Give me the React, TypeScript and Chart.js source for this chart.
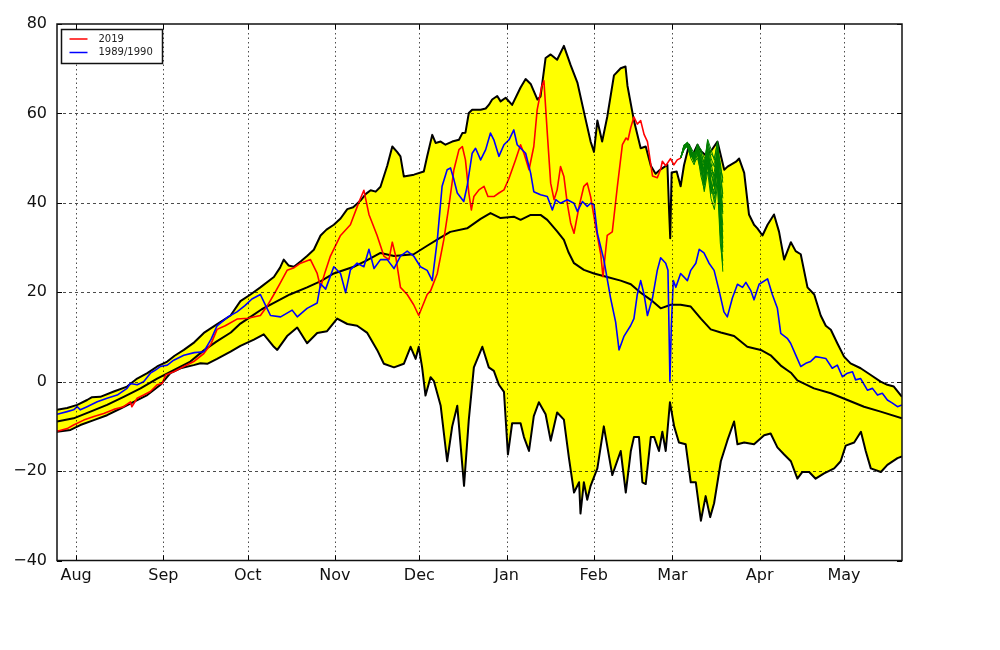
import React, { useEffect, useRef } from 'react';
import { Chart, registerables } from 'chart.js';

Chart.register(...registerables);

// ---- axes ----
const xMin = -6.8;
const xMax = 293.6;
const yMin = -40;
const yMax = 80;
const yTicks = [-40, -20, 0, 20, 40, 60, 80];
const monthDays = [0, 31, 61, 92, 122, 153, 184, 212, 243, 273];
const monthLabels = ['Aug', 'Sep', 'Oct', 'Nov', 'Dec', 'Jan', 'Feb', 'Mar', 'Apr', 'May'];

// ---- upper envelope (max) ----
const maxDays = [-6.8, -3.2, 0.4, 3.9, 5.5, 8.6, 13.4, 18.1, 21.7, 25.3, 28.8, 32.4, 35, 38.3, 42, 45.4, 50, 54.9, 58.4, 62, 65.5, 70.3, 72.5, 73.8, 75.5, 77.4, 80, 82.1, 84.5, 86.9, 89, 91.6, 94, 96.4, 98.5, 101.1, 103, 104.7, 106.5, 108.2, 110.6, 112.4, 114.1, 115.3, 116.5, 120.1, 123.6, 124.8, 126.6, 127.8, 129.6, 131.3, 133.7, 136.1, 137.3, 138.4, 139.6, 140.8, 143.8, 145.6, 146.7, 147.9, 149.7, 150.9, 152.7, 155, 158, 159.8, 161.6, 164, 165.1, 166.9, 168.7, 171, 173.4, 175.8, 178.2, 180.5, 182.9, 184.1, 185.3, 187, 188.8, 191.2, 193.6, 195.3, 196, 198.3, 200.7, 202.5, 204.3, 206, 207.8, 210.2, 210.8, 211.2, 211.7, 213.5, 214.9, 216.1, 217.9, 219.1, 220.9, 222.1, 223.9, 225.7, 228, 230.4, 231.6, 234.6, 235.7, 237.5, 239.2, 241, 242.2, 244, 245.8, 248.1, 249.9, 251.7, 254.1, 255.8, 257.6, 260, 262.4, 264.7, 266.5, 268.3, 270.6, 273, 275.3, 278.9, 282.5, 286, 288.4, 290.7, 293.6];
const maxVals = [-6.3, -5.9, -5.2, -4.1, -3.5, -3.4, -2.2, -1.1, 0.7, 1.9, 3.4, 4.5, 5.8, 7.1, 8.8, 10.9, 12.8, 14.8, 18.0, 19.5, 21.1, 23.4, 25.5, 27.3, 26.0, 25.7, 27.0, 28.1, 29.5, 32.7, 34.0, 35.1, 36.5, 38.6, 39.0, 40.5, 42.0, 42.8, 42.5, 43.6, 48.3, 52.6, 51.4, 50.4, 45.9, 46.3, 47.0, 50.4, 55.2, 53.4, 53.7, 53.0, 53.7, 54.1, 55.6, 55.7, 60.1, 60.8, 60.8, 61.1, 61.9, 63.1, 63.9, 62.7, 63.5, 61.9, 65.8, 67.7, 66.6, 63.1, 63.8, 72.4, 73.2, 72.0, 75.1, 70.8, 66.9, 60.4, 53.7, 51.4, 58.4, 53.7, 59.2, 68.5, 70.1, 70.5, 66.2, 58.4, 52.2, 52.6, 48.3, 46.5, 47.5, 48.5, 38.2, 32.1, 46.8, 47.0, 43.7, 48.4, 53.0, 50.6, 53.0, 51.6, 50.6, 51.6, 53.7, 47.4, 48.1, 49.2, 49.9, 46.7, 37.4, 35.1, 34.3, 32.7, 35.1, 37.4, 33.5, 27.3, 31.2, 29.2, 28.5, 21.1, 19.5, 14.8, 12.5, 11.6, 8.6, 5.6, 4.1, 3.0, 1.5, 0.0, -0.7, -1.1, -3.4];

// ---- lower envelope (min) ----
const minDays = [-6.8, -2, 1.5, 6.3, 11, 15.8, 20.5, 25.3, 30, 33.5, 37.1, 41.8, 44.2, 46.6, 50.1, 54.9, 58.4, 63.2, 66.7, 70.3, 71.5, 75, 78.6, 82.1, 85.7, 89.2, 92.8, 96.4, 99.9, 103.5, 107, 109.4, 113, 116.5, 118.9, 120.7, 121.8, 123, 124.2, 126, 127.2, 129.6, 131.9, 133.7, 135.5, 137.9, 139.6, 141.4, 144.4, 146.7, 148.5, 150.3, 152.1, 153.5, 155, 158, 159.2, 161, 162.7, 164.5, 166.9, 168.7, 171, 173.4, 175.2, 177, 178.8, 179.3, 180.5, 181.7, 182.9, 185.3, 187.6, 190.6, 193.6, 195.4, 197.2, 198.3, 200.1, 201.3, 202.5, 204.3, 205.5, 207.2, 208.4, 209.6, 211.1, 212.6, 214.3, 216.7, 218.5, 220.3, 222.1, 223.8, 225.4, 226.8, 229.2, 231.5, 233.9, 235.1, 237.5, 241, 244.6, 246.9, 249.3, 251.7, 254.1, 256.4, 258.2, 260.6, 262.9, 265.9, 269.5, 271.8, 273.6, 276.6, 279, 280.7, 282.5, 286.1, 288.4, 292, 293.6];
const minVals = [-11.2, -10.8, -9.7, -8.6, -7.5, -6.0, -4.5, -3.0, -0.7, 1.9, 3.0, 3.7, 4.1, 4.0, 5.1, 6.7, 8.0, 9.4, 10.6, 7.8, 7.1, 10.2, 12.1, 8.6, 10.9, 11.3, 14.1, 12.9, 12.5, 10.9, 7.1, 4.0, 3.2, 4.0, 7.8, 5.1, 7.8, 3.2, -3.1, 1.0, 0.1, -5.4, -17.8, -10.0, -5.4, -23.3, -8.5, 3.2, 7.8, 3.2, 2.4, -0.7, -2.3, -16.3, -9.3, -9.3, -12.4, -15.5, -7.7, -4.6, -7.3, -13.2, -6.9, -8.5, -17.1, -24.8, -22.5, -29.5, -22.5, -26.4, -23.3, -19.4, -10.0, -20.9, -15.5, -24.8, -15.5, -12.4, -12.4, -22.5, -22.9, -12.4, -12.4, -15.5, -11.2, -15.5, -4.6, -10.0, -13.6, -14.0, -22.5, -22.5, -31.1, -25.6, -30.3, -27.2, -17.8, -13.2, -8.9, -14.0, -13.6, -14.0, -12.0, -11.6, -14.7, -16.3, -17.8, -21.7, -20.2, -20.2, -21.7, -20.5, -19.4, -17.8, -14.3, -13.6, -11.2, -15.5, -19.4, -20.2, -18.6, -17.1, -16.7];

// ---- mean ----
const meanDays = [-6.8, -0.9, 5.1, 11, 16.9, 22.9, 28.8, 34.7, 40.6, 45.4, 50, 55, 58.4, 62, 66, 70.3, 76, 82.1, 87, 91.6, 98.7, 103, 108.2, 113, 120, 124.8, 129.5, 133, 139, 143.8, 147.3, 150.9, 155.6, 158, 161.6, 165.1, 167.5, 171, 173.4, 175, 177, 180.5, 184.1, 188.8, 193.6, 197.2, 200.7, 204.3, 207.8, 211.4, 214.9, 218.5, 222.1, 225.6, 229.2, 233.9, 238.6, 243.4, 246.9, 250.5, 254.1, 256.4, 262.3, 268.3, 274.2, 280.1, 286, 293.6];
const meanVals = [-8.9, -8.2, -6.7, -5.2, -3.4, -1.5, 0.7, 2.6, 4.5, 7.0, 9.0, 11.0, 13.0, 14.5, 16.2, 17.6, 19.5, 21.1, 22.5, 24.2, 25.7, 27.0, 28.8, 28.1, 28.5, 30.4, 32.2, 33.5, 34.3, 36.4, 37.7, 36.6, 36.9, 36.2, 37.3, 37.3, 36.2, 33.6, 31.7, 29.0, 26.5, 25.0, 24.2, 23.4, 22.6, 21.8, 19.9, 18.3, 16.4, 17.2, 17.2, 16.8, 14.1, 11.7, 11.0, 10.2, 7.8, 7.1, 5.9, 3.6, 2.0, 0.3, -1.5, -2.6, -4.1, -5.6, -6.7, -8.2];

// ---- 2019 ----
const redDays = [-6.8, -3.2, -0.9, 2.7, 6.3, 9.8, 13.4, 16.9, 19.3, 19.8, 21.7, 24, 26.4, 28.8, 30.6, 31.8, 34.7, 38.3, 41.8, 45.4, 48, 50.1, 53, 57.2, 61, 65.5, 68, 70.3, 72.5, 75, 77.5, 79.8, 83.3, 85.7, 86.9, 88.5, 90.4, 94, 97.5, 100.5, 102.3, 104.1, 107, 109.4, 111.2, 112.4, 113.6, 115.3, 117.7, 120, 121.8, 124.8, 126, 128.4, 130.7, 132.5, 134.3, 136.1, 137.3, 138.4, 139.6, 140.5, 141.4, 143.2, 145, 146.4, 148.5, 150.3, 152.1, 153.9, 156.2, 158, 159.2, 161, 162.7, 163.9, 165.5, 166.3, 167.5, 168.7, 169.9, 171, 172.2, 173.4, 174.6, 175.8, 177, 178.8, 180.5, 181.7, 182.9, 184.7, 186.5, 187.3, 188.8, 190.6, 192.4, 194.2, 195.5, 196.2, 197.2, 198.3, 199.5, 200.7, 201.9, 203.1, 204.9, 206.6, 207.8, 208.4, 209.6, 211.3, 212.5, 213.7, 214.9];
const redVals = [-11.1, -10.5, -9.7, -8.6, -7.8, -7.1, -6.2, -5.6, -4.5, -5.6, -3.7, -3.0, -2.2, -0.7, -0.4, 1.5, 2.2, 3.4, 4.5, 6.3, 8.5, 11.7, 12.5, 14.0, 14.2, 14.8, 17.0, 19.5, 22.0, 24.9, 25.5, 26.5, 27.3, 24.2, 21.1, 24.5, 28.1, 32.7, 35.1, 40.1, 42.8, 37.4, 32.7, 28.1, 27.3, 31.2, 28.1, 21.1, 19.5, 17.2, 14.8, 19.5, 20.3, 24.2, 31.7, 39.2, 47.4, 51.9, 52.6, 49.6, 42.2, 38.4, 41.4, 42.9, 43.7, 41.4, 41.4, 42.2, 42.9, 45.5, 49.6, 53.0, 51.1, 47.4, 52.6, 60.8, 66.0, 67.3, 55.6, 44.4, 40.7, 42.9, 48.1, 45.9, 39.9, 35.5, 33.2, 39.2, 43.7, 44.4, 41.4, 34.7, 28.5, 23.5, 32.7, 33.5, 43.6, 53.0, 54.5, 54.1, 56.9, 59.2, 57.6, 58.4, 55.3, 53.7, 46.0, 45.6, 47.5, 49.3, 48.3, 49.9, 48.5, 49.6, 50.0];

// ---- 1989/1990 ----
const blueDays = [-6.8, -3.2, -0.9, 0.4, 1.5, 3.9, 7.5, 11, 14.6, 18.1, 19.3, 21.7, 24, 26.4, 28.2, 30, 32.4, 34.7, 38.3, 42, 45.4, 48, 50.1, 54, 57.2, 60, 62.5, 65.5, 67, 69.1, 72.7, 76.8, 78.6, 82.1, 85.7, 86.9, 88.7, 91.6, 94, 95.8, 97.5, 99.9, 102.3, 104.1, 105.9, 108.2, 110.6, 113, 115.3, 117.7, 120, 122.4, 124.8, 126.6, 128.4, 130.1, 131.9, 133.1, 134.3, 135.5, 137.8, 139, 140.8, 142, 143.8, 145.6, 147.3, 148.5, 150.3, 152.1, 153.9, 155.6, 156.8, 158, 159.8, 161.6, 162.7, 165.1, 167.5, 169.3, 170.5, 172.2, 174.6, 177, 178.2, 180, 181.7, 182.9, 184.1, 185.3, 187.6, 190, 191.8, 193, 194.8, 197.1, 198.3, 199.5, 200.7, 201.9, 203.1, 204.9, 206.6, 207.8, 209.6, 210.4, 211.1, 211.6, 212.3, 213.2, 214.9, 217.3, 218.5, 220.3, 221.5, 223.2, 225, 226.8, 228.6, 230.3, 231.5, 233.3, 235.1, 236.9, 238.1, 239.9, 241, 242.8, 245.8, 247.5, 249.3, 250.5, 252.8, 254, 255.8, 257.6, 259.4, 261.1, 262.9, 264.7, 266.5, 268.8, 270.6, 272.4, 274.2, 276, 277.1, 278.9, 281.3, 283.1, 284.9, 286.6, 288.4, 290.2, 292, 293.6];
const blueVals = [-7.3, -6.7, -6.3, -5.6, -6.3, -5.6, -4.5, -3.7, -3.0, -1.5, -0.4, -0.7, 0.0, 1.9, 2.6, 3.4, 3.7, 4.8, 5.9, 6.5, 6.7, 9.5, 12.5, 14.5, 15.6, 17.0, 18.5, 19.5, 17.5, 14.8, 14.5, 16.0, 14.5, 16.4, 17.6, 21.9, 20.7, 25.7, 24.2, 19.9, 25.0, 26.5, 25.7, 29.6, 25.3, 27.3, 27.3, 25.3, 28.1, 29.2, 28.1, 25.7, 24.9, 22.6, 31.7, 43.7, 47.4, 47.8, 45.2, 42.2, 40.3, 43.7, 51.1, 52.2, 49.6, 51.9, 55.6, 54.1, 50.4, 53.0, 54.1, 56.3, 53.0, 52.2, 51.1, 46.6, 42.5, 41.8, 41.4, 38.4, 40.7, 39.9, 40.7, 39.9, 38.1, 40.3, 39.2, 39.9, 39.6, 33.2, 27.3, 18.7, 13.3, 7.1, 10.2, 12.5, 14.1, 19.5, 22.6, 19.5, 14.8, 18.7, 24.9, 27.7, 26.5, 24.9, 0.1, 12.5, 22.6, 21.1, 24.2, 22.6, 24.9, 26.5, 29.6, 28.8, 26.5, 24.9, 20.3, 15.6, 14.5, 18.7, 21.8, 21.1, 22.2, 20.3, 18.3, 21.8, 23.0, 19.5, 16.4, 10.8, 9.7, 8.6, 6.0, 3.4, 4.1, 4.5, 5.6, 5.4, 5.2, 3.0, 3.7, 1.1, 1.9, 2.2, 0.4, 0.7, -1.9, -1.5, -3.0, -2.6, -4.1, -4.8, -5.6, -5.2];

// ---- forecast members (green) ----
const greenDays = [214.9, 216.1, 217.3, 218.5, 219.7, 220.9, 222.1, 223.3, 224.5, 225.7, 226.9, 228.0, 229.0, 229.9];
const greenRun1 = [50, 52.5, 53.4, 51.5, 50.5, 52.5, 51.0, 49.0, 53.5, 51.0, 50.0, 53.5, 46.0, 41.0];
const greenRun2 = [50, 52.0, 53.0, 50.5, 50.0, 51.5, 48.0, 44.0, 52.0, 47.0, 44.0, 50.0, 38.0, 30.0];
const greenRun3 = [50, 53.0, 53.2, 52.0, 49.5, 53.0, 50.0, 46.0, 50.0, 42.0, 46.0, 48.0, 34.0, 24.6];
const greenRun4 = [50, 52.2, 52.8, 51.0, 51.0, 52.0, 49.0, 47.5, 54.0, 50.0, 48.0, 52.0, 49.0, 44.5];
const greenRun5 = [50, 51.8, 53.0, 50.0, 48.5, 51.0, 46.0, 43.0, 49.0, 45.0, 41.0, 45.0, 33.0, 27.0];
const greenRun6 = [50, 52.6, 53.5, 52.5, 51.0, 52.8, 52.0, 50.0, 51.0, 48.0, 49.0, 51.0, 42.0, 35.0];
const greenRun7 = [50, 52.3, 52.5, 51.2, 49.0, 50.0, 47.0, 45.0, 48.0, 44.0, 40.0, 46.0, 40.0, 32.0];
const greenRun8 = [50, 52.8, 53.2, 51.8, 50.2, 52.2, 50.5, 48.0, 52.5, 46.0, 47.0, 52.5, 47.0, 42.0];
const greenRun9 = [50, 52.0, 52.9, 50.8, 49.8, 51.8, 49.5, 44.5, 50.5, 43.0, 43.0, 49.0, 36.0, 29.0];
const greenRun10 = [50, 52.4, 53.1, 51.6, 50.6, 52.6, 48.5, 47.0, 53.0, 49.0, 45.0, 50.5, 44.0, 37.5];
const greenRun11 = [50, 52.1, 53.3, 51.0, 49.2, 52.3, 49.8, 46.5, 51.5, 44.5, 42.0, 47.5, 39.0, 33.5];
const greenRun12 = [50, 52.7, 52.6, 50.2, 50.8, 51.2, 47.5, 42.5, 47.0, 41.0, 38.5, 44.0, 31.0, 26.0];
const greenRun13 = [50, 52.9, 53.6, 52.2, 50.0, 53.2, 51.5, 48.5, 54.2, 52.0, 49.5, 53.8, 48.0, 45.5];
const greenRun14 = [50, 51.9, 52.7, 50.6, 49.5, 50.8, 48.0, 45.5, 49.5, 46.5, 43.5, 48.5, 41.0, 38.0];
const greenRun15 = [50, 52.5, 53.0, 51.4, 50.4, 52.4, 50.0, 47.0, 52.0, 47.5, 46.0, 51.5, 43.5, 39.0];
const greenRun16 = [50, 52.2, 53.3, 51.9, 49.7, 51.6, 49.0, 44.0, 48.5, 42.5, 44.5, 47.0, 37.0, 31.0];
const greenRuns = [greenRun1, greenRun2, greenRun3, greenRun4, greenRun5, greenRun6, greenRun7, greenRun8, greenRun9, greenRun10, greenRun11, greenRun12, greenRun13, greenRun14, greenRun15, greenRun16];

const legendItems = [
  { label: '2019', color: '#ff0000' },
  { label: '1989/1990', color: '#0000ff' },
];

const FONT = '"DejaVu Sans", "Liberation Sans", sans-serif';

const zip = (xs: number[], ys: number[]) => xs.map((x, i) => ({ x, y: ys[i] }));

const fmtNum = (v: number) => (v < 0 ? '\u2212' + Math.abs(v) : String(v));

const mplPlugin = {
  id: 'mplFrame',
  afterDatasetsDraw(chart: any) {
    const { ctx, chartArea: a, scales } = chart;
    const xs = scales.x;
    const ys = scales.y;
    ctx.save();
    ctx.lineWidth = 1;
    ctx.strokeStyle = 'rgba(0,0,0,0.7)';
    ctx.setLineDash([1.5, 3]);
    for (const d of monthDays) {
      const px = Math.round(xs.getPixelForValue(d)) + 0.5;
      ctx.beginPath();
      ctx.moveTo(px, a.top);
      ctx.lineTo(px, a.bottom);
      ctx.stroke();
    }
    ctx.setLineDash([3, 3]);
    for (const v of yTicks) {
      if (v === yMin || v === yMax) continue;
      const py = Math.round(ys.getPixelForValue(v)) + 0.5;
      ctx.beginPath();
      ctx.moveTo(a.left, py);
      ctx.lineTo(a.right, py);
      ctx.stroke();
    }
    ctx.setLineDash([]);
    ctx.strokeStyle = '#000';
    ctx.beginPath();
    for (const d of monthDays) {
      const px = Math.round(xs.getPixelForValue(d)) + 0.5;
      ctx.moveTo(px, a.bottom);
      ctx.lineTo(px, a.bottom - 5);
      ctx.moveTo(px, a.top);
      ctx.lineTo(px, a.top + 5);
    }
    for (const v of yTicks) {
      const py = Math.round(ys.getPixelForValue(v)) + 0.5;
      ctx.moveTo(a.left, py);
      ctx.lineTo(a.left + 5, py);
      ctx.moveTo(a.right, py);
      ctx.lineTo(a.right - 5, py);
    }
    ctx.stroke();
    ctx.lineWidth = 1.5;
    ctx.strokeStyle = '#111';
    ctx.strokeRect(a.left, a.top, a.right - a.left, a.bottom - a.top);
    ctx.restore();
  },
  afterDraw(chart: any) {
    const { ctx, chartArea: a } = chart;
    const bx = a.left + 4.5;
    const by = a.top + 5.5;
    const bw = 101;
    const bh = 34;
    ctx.save();
    ctx.fillStyle = '#ffffff';
    ctx.fillRect(bx, by, bw, bh);
    ctx.lineWidth = 1.5;
    ctx.strokeStyle = '#111';
    ctx.strokeRect(bx, by, bw, bh);
    ctx.font = '10px ' + FONT;
    ctx.textBaseline = 'middle';
    ctx.textAlign = 'left';
    legendItems.forEach((it, i) => {
      const yy = by + 9.5 + i * 13.5;
      ctx.strokeStyle = it.color;
      ctx.lineWidth = 1.5;
      ctx.beginPath();
      ctx.moveTo(bx + 8, yy);
      ctx.lineTo(bx + 26, yy);
      ctx.stroke();
      ctx.fillStyle = '#222';
      ctx.fillText(it.label, bx + 37, yy);
    });
    ctx.restore();
  },
};

export default function App() {
  const ref = useRef<HTMLCanvasElement | null>(null);

  useEffect(() => {
    if (!ref.current) return;
    const lineDs = (label: string, data: any[], color: string, width: number, extra: any = {}) => ({
      label,
      data,
      borderColor: color,
      backgroundColor: color,
      borderWidth: width,
      pointRadius: 0,
      tension: 0,
      fill: false,
      borderJoinStyle: 'round',
      ...extra,
    });

    const greenSets = greenRuns.map((run, i) =>
      lineDs('member ' + (i + 1), zip(greenDays, run), '#007f00', 1)
    );

    const datasets: any[] = [
      lineDs('1989/1990', zip(blueDays, blueVals), '#0000ff', 1.6),
      lineDs('2019', zip(redDays, redVals), '#ff0000', 1.6),
      ...greenSets,
      lineDs('mean', zip(meanDays, meanVals), '#000000', 2),
    ];
    const maxIndex = datasets.length;
    const minIndex = maxIndex + 1;
    datasets.push(
      lineDs('max', zip(maxDays, maxVals), '#000000', 2, { fill: minIndex, backgroundColor: '#ffff00' })
    );
    datasets.push(lineDs('min', zip(minDays, minVals), '#000000', 2));

    const chart = new Chart(ref.current, {
      type: 'line',
      data: { datasets },
      plugins: [mplPlugin],
      options: {
        responsive: false,
        animation: false,
        devicePixelRatio: 1,
        layout: { padding: { left: 0, right: 98, top: 24, bottom: 0 } },
        plugins: {
          legend: { display: false },
          tooltip: { enabled: false },
          filler: { drawTime: 'beforeDatasetsDraw' },
        },
        scales: {
          x: {
            type: 'linear',
            min: xMin,
            max: xMax,
            grid: { display: false, drawTicks: false },
            border: { display: false },
            afterBuildTicks: (axis: any) => {
              axis.ticks = monthDays.map((v) => ({ value: v }));
            },
            afterFit: (axis: any) => {
              axis.height = 89.5;
            },
            ticks: {
              autoSkip: false,
              maxRotation: 0,
              minRotation: 0,
              padding: 6,
              color: '#111',
              font: { family: FONT, size: 16 },
              callback: (v: any) => {
                const i = monthDays.indexOf(Number(v));
                return i >= 0 ? monthLabels[i] : '';
              },
            },
          },
          y: {
            type: 'linear',
            min: yMin,
            max: yMax,
            grid: { display: false, drawTicks: false },
            border: { display: false },
            afterFit: (axis: any) => {
              axis.width = 57;
            },
            ticks: {
              stepSize: 20,
              padding: 10,
              color: '#111',
              font: { family: FONT, size: 16 },
              callback: (v: any) => fmtNum(Number(v)),
            },
          },
        },
      } as any,
    });
    return () => chart.destroy();
  }, []);

  return (
    <div style={{ position: 'absolute', left: 0, top: 0, width: 1000, height: 650, background: '#fff' }}>
      <canvas ref={ref} width={1000} height={650} style={{ display: 'block', width: 1000, height: 650 }} />
    </div>
  );
}
